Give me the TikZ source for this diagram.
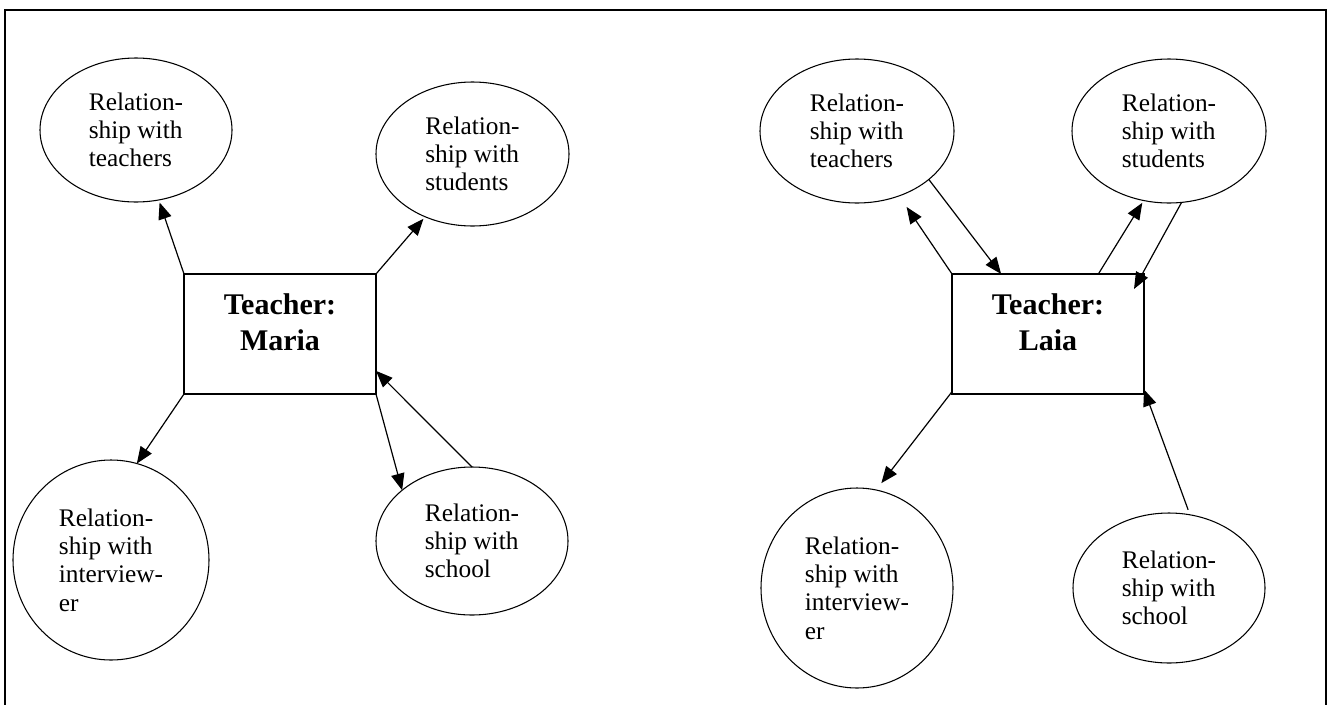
\documentclass[tikz,border=0pt]{standalone}
\usepackage{fontspec}
\setmainfont{Liberation Serif}
\usetikzlibrary{arrows.meta,shapes.geometric,calc}
\begin{document}
\begin{tikzpicture}[x=0.75pt,y=-0.75pt,
  bubble/.style={draw, ellipse, line width=0.8pt, inner sep=0pt, outer sep=0pt, align=left,
    font=\fontsize{19pt}{21.2pt}\selectfont},
  teacherbox/.style={draw, rectangle, line width=0.9pt, minimum width=144pt, minimum height=90pt,
    inner sep=0pt, outer sep=0pt},
  boxtext/.style={align=center, inner sep=0pt, anchor=north,
    font=\fontsize{22.5pt}{27pt}\selectfont\bfseries},
  link/.style={line width=0.9pt, -{Triangle[length=12.5pt,width=10pt]}}]
\useasboundingbox (0,0) rectangle (1332,704);
\draw[line width=1.5pt] (4.7,10) rectangle (1326,712);

% ---------- Maria ----------
\node[teacherbox] (mbox) at (280,334) {};
\node[boxtext] (mtext) at (280,293) {Teacher:\\Maria};
\node[bubble, minimum width=144pt, minimum height=108pt] (mteach) at (136,130) {Relation-\\ship with\\teachers};
\node[bubble, minimum width=144.75pt, minimum height=108pt] (mstud) at (472.5,154) {Relation-\\ship with\\students};
\node[bubble, minimum width=147pt, minimum height=150pt] (minter) at (111,560) {Relation-\\ship with\\interview-\\er};
\node[bubble, minimum width=144pt, minimum height=111pt] (mschool) at (472,541) {Relation-\\ship with\\school};

\draw[link, shorten >=2pt] (mbox.north west) -- (mteach.-72);
\draw[link, shorten >=2pt] (mbox.north east) -- (mstud.-127);
\draw[link] (mbox.south west) -- (minter.75);
\draw[link] (mbox.south east) -- (mschool.144);
\draw[link] (mschool.north) -- (mbox.-21.6);

% ---------- Laia ----------
\node[teacherbox] (lbox) at (1048,334) {};
\node[boxtext] (ltext) at (1048,293) {Teacher:\\Laia};
\node[bubble, minimum width=145.5pt, minimum height=108pt] (lteach) at (857,131) {Relation-\\ship with\\teachers};
\node[bubble, minimum width=145.5pt, minimum height=108pt] (lstud) at (1169,131) {Relation-\\ship with\\students};
\node[bubble, minimum width=144pt, minimum height=150pt] (linter) at (857,588) {Relation-\\ship with\\interview-\\er};
\node[bubble, minimum width=144pt, minimum height=112.5pt] (lschool) at (1169,588) {Relation-\\ship with\\school};

\draw[link, shorten >=10pt] (lbox.north west) -- (lteach.-57);
\draw[link] (lteach.-34) -- (lbox.128.7);
\draw[link, shorten >=2pt] (lbox.50.8) -- (lstud.-110);
\draw[link] (lstud.-80) -- ($(lbox.north east)+(-10,15)$);
\draw[link, shorten >=6.5pt] (lbox.-149.7) -- (linter.79);
\draw[link, shorten <=4pt] (lschool.74) -- (lbox.-30.7);
\end{tikzpicture}
\end{document}
